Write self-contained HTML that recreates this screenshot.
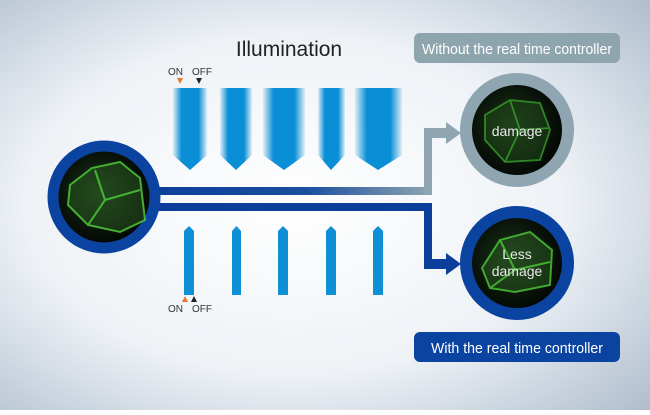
<!DOCTYPE html>
<html><head><meta charset="utf-8"><style>
html,body{margin:0;padding:0}
body{width:650px;height:410px;overflow:hidden}
</style></head><body>
<svg width="650" height="410" viewBox="0 0 650 410" xmlns="http://www.w3.org/2000/svg" font-family="Liberation Sans, sans-serif">
<defs>
<radialGradient id="bg" cx="0.45" cy="0.5" r="0.75">
<stop offset="0" stop-color="#ffffff"/><stop offset="0.55" stop-color="#eef2f6"/><stop offset="1" stop-color="#aebccc"/>
</radialGradient>
<linearGradient id="bar" x1="0" x2="1" y1="0" y2="0">
<stop offset="0" stop-color="#0a8fd6" stop-opacity="0.1"/><stop offset="0.25" stop-color="#0a8fd6"/><stop offset="0.75" stop-color="#0a8fd6"/><stop offset="1" stop-color="#0a8fd6" stop-opacity="0.1"/>
</linearGradient>
<linearGradient id="upline" x1="0" x2="1" y1="0" y2="0">
<stop offset="0" stop-color="#0b3f9a"/><stop offset="0.55" stop-color="#1a4f9e"/><stop offset="1" stop-color="#8fa5b2"/>
</linearGradient>
<radialGradient id="cell" cx="0.45" cy="0.45" r="0.6">
<stop offset="0" stop-color="#1d3a1a"/><stop offset="0.6" stop-color="#0a140a"/><stop offset="1" stop-color="#000"/>
</radialGradient>
</defs>
<rect width="650" height="410" fill="url(#bg)"/>
<text x="289" y="56" font-size="21" text-anchor="middle" fill="#222">Illumination</text>
<text x="168" y="75" font-size="10" fill="#333">ON</text>
<text x="192" y="75" font-size="10" fill="#333">OFF</text>
<polygon points="177,78 183,78 180,84" fill="#e8782a"/>
<polygon points="196,78 202,78 199,84" fill="#222"/>
<g fill="url(#bar)">
<polygon points="173,88 207,88 207,155 190,170 173,155"/>
<polygon points="220,88 252,88 252,155 236,170 220,155"/>
<polygon points="263,88 305,88 305,155 284,170 263,155"/>
<polygon points="318,88 345,88 345,155 331,170 318,155"/>
<polygon points="355,88 402,88 402,155 378,170 355,155"/>
</g>
<g fill="#0f8fd6">
<polygon points="184,231 189,226 194,231 194,295 184,295"/>
<polygon points="232,231 236.5,226 241,231 241,295 232,295"/>
<polygon points="278,231 283,226 288,231 288,295 278,295"/>
<polygon points="326,231 331,226 336,231 336,295 326,295"/>
<polygon points="373,231 378,226 383,231 383,295 373,295"/>
</g>
<polygon points="182,302 188,302 185,296" fill="#e8782a"/>
<polygon points="191,302 197,302 194,296" fill="#222"/>
<text x="168" y="312" font-size="10" fill="#333">ON</text>
<text x="192" y="312" font-size="10" fill="#333">OFF</text>
<rect x="150" y="187" width="282" height="8" fill="url(#upline)"/>
<rect x="424" y="128" width="8" height="67" fill="#8fa5b2"/>
<rect x="424" y="128" width="24" height="10" fill="#8fa5b2"/>
<polygon points="446,122 461,133 446,144" fill="#8fa5b2"/>
<rect x="150" y="203" width="282" height="8" fill="#0b3f9a"/>
<rect x="424" y="203" width="8" height="66" fill="#0b3f9a"/>
<rect x="424" y="259" width="24" height="10" fill="#0b3f9a"/>
<polygon points="446,253 461,264 446,275" fill="#0b3f9a"/>
<circle cx="104" cy="197" r="51" fill="url(#cell)" stroke="#0b44a0" stroke-width="11"/>
<path d="M70,185 L92,168 L120,162 L140,178 L145,220 L120,232 L88,225 L68,205 Z" fill="#2a5a22" opacity="0.5"/>
<path d="M70,185 L92,168 L120,162 L140,178 L145,220 L120,232 L88,225 L68,205 Z M95,170 L105,200 L88,225 M105,200 L140,190" fill="none" stroke="#4dc83a" stroke-width="2" opacity="0.85"/>
<circle cx="517" cy="130" r="51" fill="url(#cell)" stroke="#8fa5b2" stroke-width="12"/>
<path d="M485,115 L510,100 L540,103 L550,130 L540,160 L505,162 L485,140 Z" fill="#1f4a1a" opacity="0.5"/>
<path d="M485,115 L510,100 L540,103 L550,130 L540,160 L505,162 L485,140 Z M510,100 L520,130 L505,162 M520,130 L550,128" fill="none" stroke="#3fae32" stroke-width="1.8" opacity="0.7"/>
<text x="517" y="136" font-size="14" text-anchor="middle" fill="#e8e8e8">damage</text>
<circle cx="517" cy="263" r="51" fill="url(#cell)" stroke="#0b44a0" stroke-width="12"/>
<path d="M482,268 L500,240 L530,232 L552,250 L550,285 L515,292 L490,288 Z" fill="#2a5a22" opacity="0.5"/>
<path d="M482,268 L500,240 L530,232 L552,250 L550,285 L515,292 L490,288 Z M500,240 L515,270 L490,288 M515,270 L550,262" fill="none" stroke="#4dc83a" stroke-width="2" opacity="0.8"/>
<text x="517" y="259" font-size="14" text-anchor="middle" fill="#e8e8e8">Less</text>
<text x="517" y="276" font-size="14" text-anchor="middle" fill="#e8e8e8">damage</text>
<rect x="414" y="33" width="206" height="30" rx="6" fill="#8fa5ae"/>
<text x="517" y="54" font-size="14.5" text-anchor="middle" fill="#fff" textLength="190" lengthAdjust="spacingAndGlyphs">Without the real time controller</text>
<rect x="414" y="332" width="206" height="30" rx="6" fill="#0b44a0"/>
<text x="517" y="353" font-size="15" text-anchor="middle" fill="#fff" textLength="172" lengthAdjust="spacingAndGlyphs">With the real time controller</text>
</svg>
</body></html>
